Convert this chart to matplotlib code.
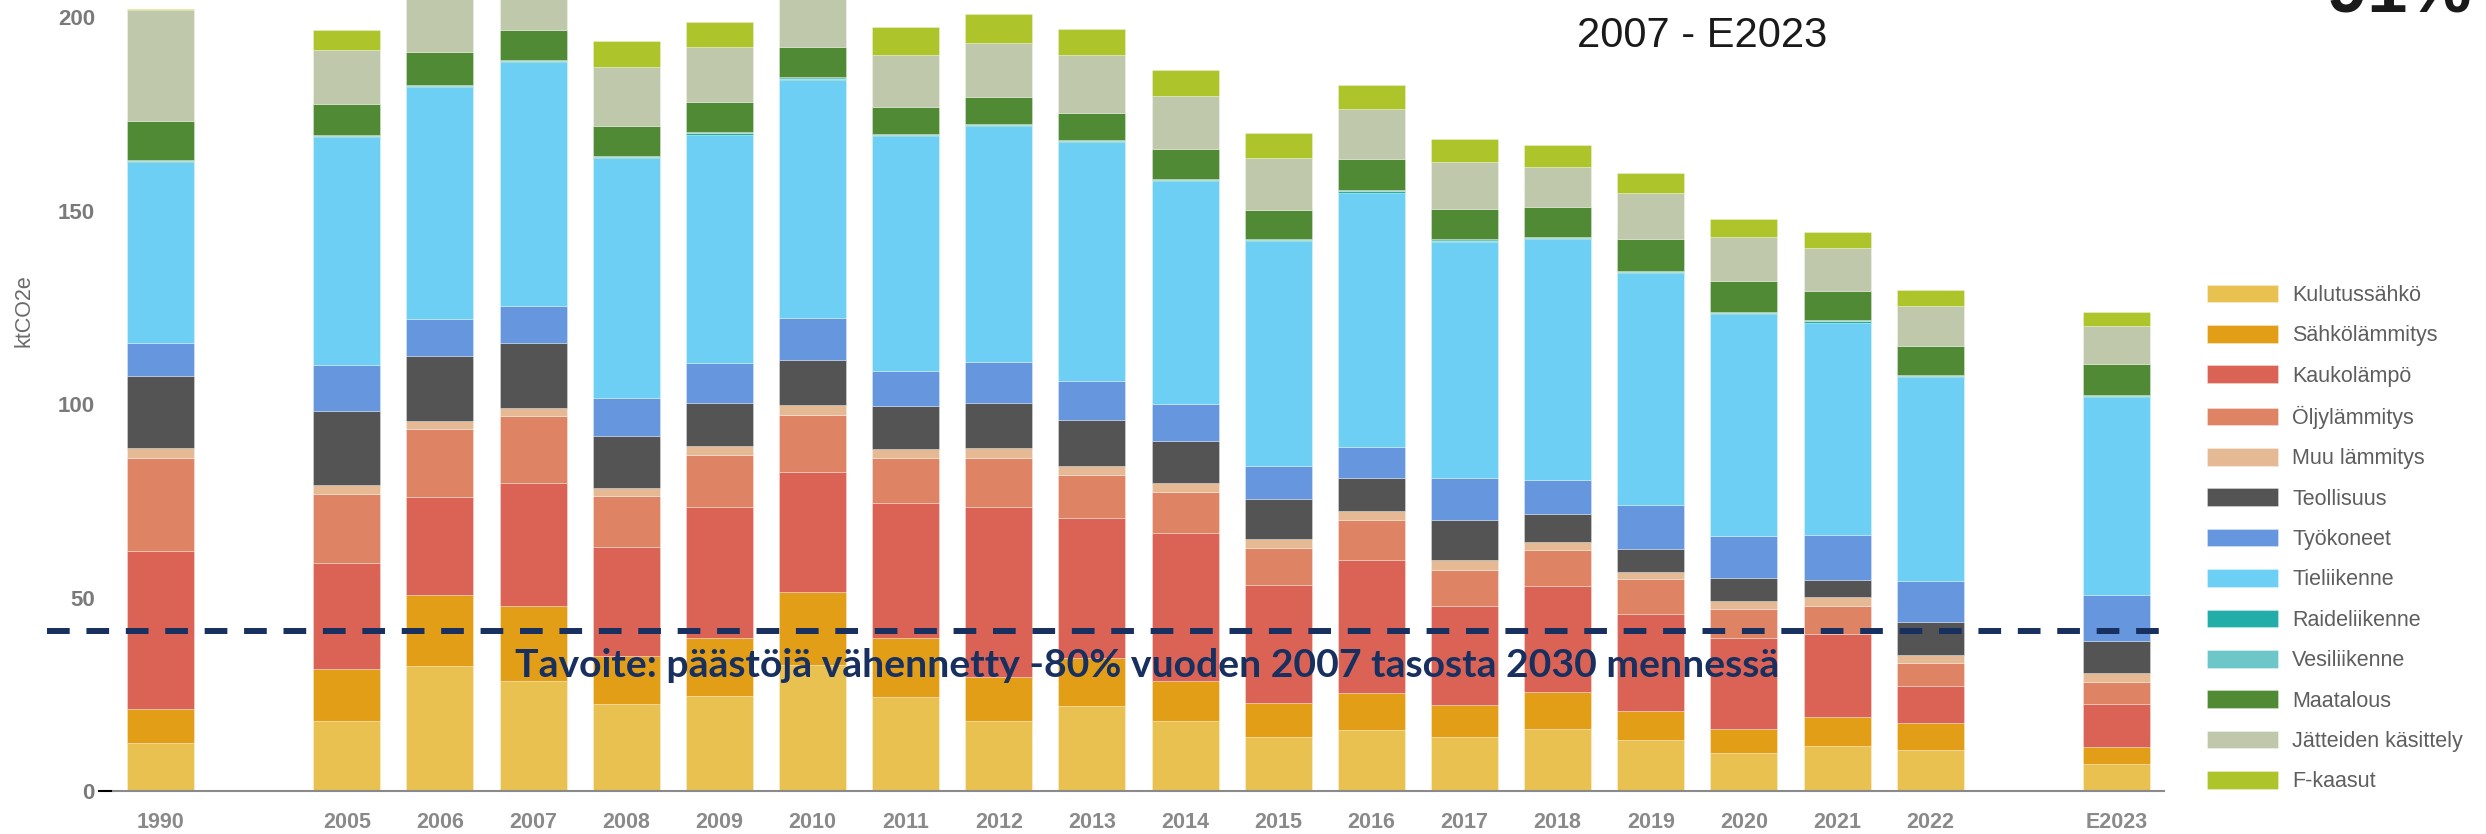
import numpy as np
import matplotlib
matplotlib.use("Agg")
import matplotlib.pyplot as plt

# vuodet ja sijainnit (tyhjä väli 1990 jälkeen ja ennen E2023)
years = ["1990", "2005", "2006", "2007", "2008", "2009", "2010", "2011", "2012", "2013",
         "2014", "2015", "2016", "2017", "2018", "2019", "2020", "2021", "2022", "E2023"]
slots = [0, 2, 3, 4, 5, 6, 7, 8, 9, 10, 11, 12, 13, 14, 15, 16, 17, 18, 19, 21]

# päästöt sektoreittain, ktCO2e
kulutussahko = [12.4, 18.2, 32.3, 28.5, 22.4, 24.5, 32.6, 24.3, 18.2, 21.9, 18.2, 14.0, 15.7, 14.0, 16.1, 13.1, 9.9, 11.6, 10.6, 7.0]
sahkolammitys = [8.8, 13.4, 18.5, 19.2, 12.4, 15.0, 18.8, 15.2, 11.2, 12.6, 10.3, 8.7, 9.7, 8.3, 9.6, 7.7, 6.2, 7.5, 6.9, 4.4]
kaukolampo = [40.8, 27.3, 25.1, 31.8, 28.2, 34.0, 31.1, 34.9, 43.9, 36.2, 38.1, 30.5, 34.4, 25.6, 27.4, 25.0, 23.4, 21.5, 9.6, 11.2]
oljylammitys = [24.0, 18.0, 17.8, 17.5, 13.3, 13.4, 14.6, 11.6, 12.9, 10.9, 10.7, 9.7, 10.2, 9.3, 9.2, 8.9, 7.5, 7.3, 5.9, 5.6]
muu_lammitys = [2.7, 2.2, 1.9, 1.9, 2.1, 2.4, 2.6, 2.3, 2.5, 2.3, 2.3, 2.3, 2.4, 2.4, 2.1, 2.0, 2.2, 2.2, 2.2, 2.3]
teollisuus = [18.5, 19.1, 16.9, 16.8, 13.3, 11.1, 11.7, 11.3, 11.6, 12.1, 10.8, 10.2, 8.6, 10.4, 7.1, 5.9, 5.8, 4.5, 8.4, 8.3]
tyokoneet = [8.5, 12.0, 9.5, 9.7, 9.8, 10.2, 11.0, 8.9, 10.7, 9.9, 9.7, 8.5, 8.0, 10.9, 9.0, 11.3, 11.0, 11.7, 10.6, 12.0]
tieliikenne = [46.8, 58.9, 59.9, 63.1, 62.1, 59.1, 61.5, 60.8, 60.9, 61.9, 57.6, 58.3, 65.7, 61.1, 62.1, 60.0, 57.2, 54.8, 52.8, 51.1]
raideliikenne = [0.3, 0.3, 0.3, 0.3, 0.3, 0.3, 0.3, 0.3, 0.3, 0.3, 0.3, 0.3, 0.3, 0.3, 0.3, 0.3, 0.3, 0.3, 0.3, 0.3]
vesiliikenne = [0.3, 0.3, 0.3, 0.3, 0.3, 0.3, 0.3, 0.3, 0.3, 0.3, 0.3, 0.3, 0.3, 0.3, 0.3, 0.3, 0.3, 0.3, 0.3, 0.3]
maatalous = [10.1, 8.0, 8.6, 7.6, 7.6, 7.8, 7.9, 7.0, 6.9, 7.0, 7.6, 7.5, 8.1, 7.9, 7.7, 8.1, 8.0, 7.6, 7.5, 8.0]
jatteet = [28.6, 14.0, 14.9, 14.5, 15.3, 14.3, 13.6, 13.3, 14.1, 15.0, 13.9, 13.4, 12.8, 12.2, 10.3, 11.9, 11.4, 11.0, 10.3, 9.6]
f_kaasut = [0.4, 5.0, 5.0, 5.0, 6.9, 6.5, 5.0, 7.3, 7.3, 6.6, 6.7, 6.3, 6.2, 5.8, 5.7, 5.2, 4.7, 4.3, 4.2, 3.8]

tavoite = 41.3  # -80 % vuoden 2007 tasosta

sektorit = [
    ("Kulutussähkö", kulutussahko, "#E9C150"),
    ("Sähkölämmitys", sahkolammitys, "#E39E17"),
    ("Kaukolämpö", kaukolampo, "#DB6356"),
    ("Öljylämmitys", oljylammitys, "#DE8465"),
    ("Muu lämmitys", muu_lammitys, "#E5B994"),
    ("Teollisuus", teollisuus, "#545454"),
    ("Työkoneet", tyokoneet, "#6696DE"),
    ("Tieliikenne", tieliikenne, "#6DCFF4"),
    ("Raideliikenne", raideliikenne, "#22ADA9"),
    ("Vesiliikenne", vesiliikenne, "#6DC6C8"),
    ("Maatalous", maatalous, "#508A35"),
    ("Jätteiden käsittely", jatteet, "#BFC8AA"),
    ("F-kaasut", f_kaasut, "#ADC42B"),
]

plt.rcParams["font.family"] = ["Liberation Sans", "DejaVu Sans"]

W, H = 2486, 834
fig = plt.figure(figsize=(W / 100, H / 100), dpi=100)
ax = fig.add_axes([113 / W, 43 / H, (2164 - 113) / W, 1 - 43 / H])

x = np.array(slots, dtype=float)
bottom = np.zeros(len(years))
for nimi, arvot, vari in sektorit:
    ax.bar(x, arvot, width=0.72, bottom=bottom, color=vari, label=nimi,
           edgecolor=(1, 1, 1, 0.35), linewidth=0.6)
    bottom += np.array(arvot)

ax.set_xlim(-0.51, 21.51)
ax.set_ylim(0, 204.5)

ax.set_xticks(x)
ax.set_xticklabels(years, fontsize=15.5, color="#8a8a8a", fontweight="bold")
ax.set_yticks([0, 50, 100, 150, 200])
ax.set_yticklabels(["0", "50", "100", "150", "200"], fontsize=16, color="#7a7a7a", fontweight="bold")
ax.tick_params(axis="x", length=0, pad=15)
ax.tick_params(axis="y", length=0, pad=13)
t0 = ax.yaxis.get_major_ticks()[0]
t0.tick1line.set_markersize(11)
t0.tick1line.set_markeredgewidth(1.5)
t0.tick1line.set_color("#8a8a8a")

for s in ["top", "right", "left"]:
    ax.spines[s].set_visible(False)
ax.spines["bottom"].set_color("#8a8a8a")
ax.spines["bottom"].set_linewidth(1.5)

fig.text(24 / W, 1 - 311 / H, "ktCO2e", rotation=90, ha="center", va="center",
         fontsize=15.5, color="#6a6a6a")

# tavoiteviiva ja teksti
ax.plot([-1.22, 21.51], [tavoite, tavoite], color="#17305F", lw=4.3,
        linestyle=(0, (3.8, 2.8)), clip_on=False, zorder=5)
ax.text(3.81, 29.5, "Tavoite: päästöjä vähennetty -80% vuoden 2007 tasosta 2030 mennessä",
        fontsize=28.2, fontweight="bold", color="#17305F", va="baseline", ha="left",
        family=["Lato", "DejaVu Sans"], zorder=6)

# otsikon osat
fig.text(1702.5 / W, 1 - 47 / H, "2007 - E2023", ha="center", va="baseline",
         fontsize=30, color="#1a1a1a", family=["Liberation Sans Narrow", "Liberation Sans"])
fig.text(2472 / W, 1 - 12 / H, "-91%", ha="right", va="baseline",
         fontsize=52, fontweight="bold", color="#1a1a1a")

leg = ax.legend(loc="upper left", bbox_to_anchor=(2207 / W, 1 - 284.6 / H),
                bbox_transform=fig.transFigure, frameon=False, fontsize=15.5,
                handlelength=3.3, handleheight=0.88, handletextpad=0.65,
                labelspacing=0.89, borderpad=0, borderaxespad=0)
for t in leg.get_texts():
    t.set_color("#5e5e5e")

fig.savefig("out.png", dpi=100)
